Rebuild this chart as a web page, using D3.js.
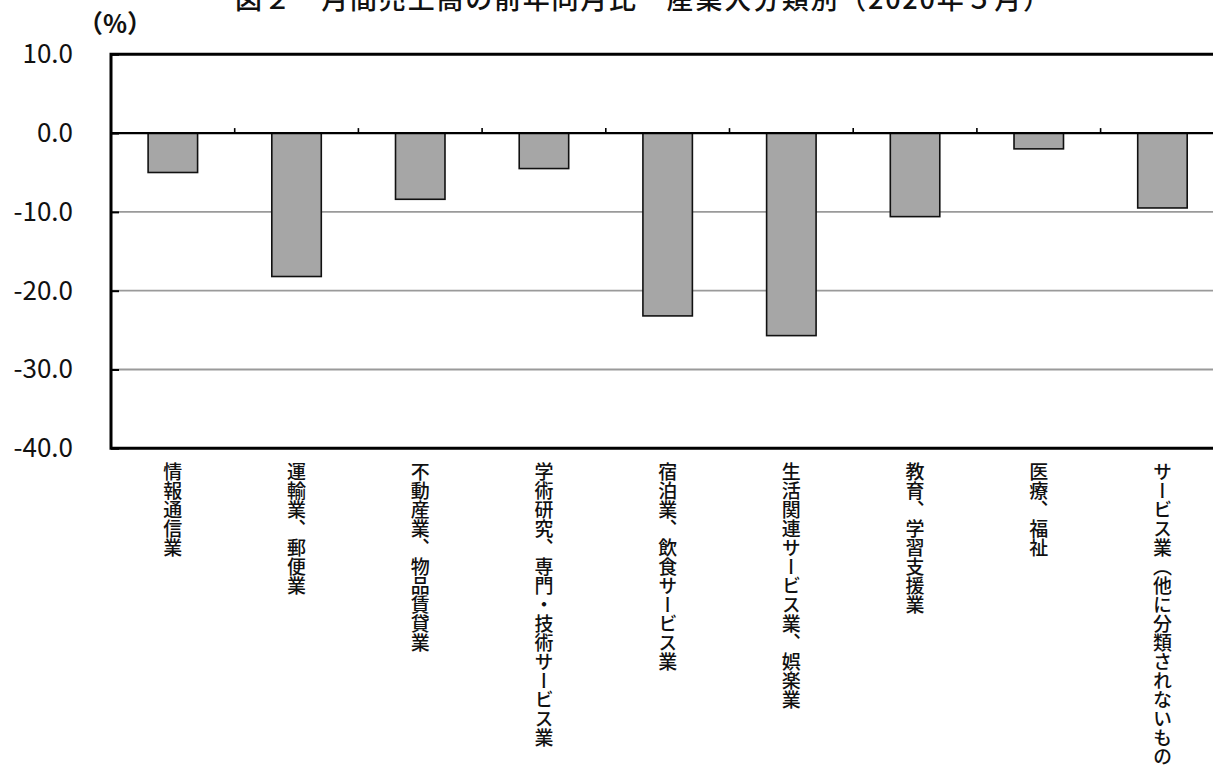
<!DOCTYPE html>
<html lang="ja">
<head>
<meta charset="utf-8">
<script src="https://cdn.jsdelivr.net/npm/d3@7"></script>
<style>
  html, body { margin: 0; padding: 0; background: #fff; overflow: hidden; }
  svg { display: block; }
  text { font-family: "Noto Sans CJK JP", "Noto Sans", sans-serif; fill: #111; }
</style>
</head>
<body>
<svg id="chart" width="1213" height="765"></svg>
<script>
// 産業大分類別 月間売上高の前年同月比（%）
const categories = [
  "情報通信業",
  "運輸業、郵便業",
  "不動産業、物品賃貸業",
  "学術研究、専門・技術サービス業",
  "宿泊業、飲食サービス業",
  "生活関連サービス業、娯楽業",
  "教育、学習支援業",
  "医療、福祉",
  "サービス業（他に分類されないもの）"
];
const values = [-5.0, -18.2, -8.4, -4.5, -23.2, -25.7, -10.6, -2.0, -9.5];
const yTicks = [10, 0, -10, -20, -30, -40];
const gridValues = [-10, -20, -30];
const titleText = "図２　月間売上高の前年同月比　産業大分類別（2020年５月）";
const unitText = "（%）";

const svg = d3.select("#chart");
const margin = { left: 111, top: 54.3, bottom: 448.3 };
const bandW = 123.7;
const plotRight = margin.left + bandW * categories.length;

const x = d3.scaleBand()
  .domain(categories)
  .range([margin.left, plotRight])
  .paddingInner(0.6)
  .paddingOuter(0.3);

const y = d3.scaleLinear()
  .domain([-40, 10])
  .range([margin.bottom, margin.top]);

// title (top of page)
svg.append("text")
  .attr("x", 235)
  .attr("y", 9)
  .attr("font-size", 27)
  .attr("font-weight", 500)
  .attr("textLength", 815)
  .attr("lengthAdjust", "spacing")
  .text(titleText);

// unit label
svg.append("text")
  .attr("x", 78)
  .attr("y", 33)
  .attr("font-size", 25)
  .attr("font-weight", 700)
  .text(unitText);

// horizontal gridlines
svg.append("g")
  .selectAll("line")
  .data(gridValues)
  .join("line")
  .attr("x1", margin.left)
  .attr("x2", plotRight)
  .attr("y1", d => y(d))
  .attr("y2", d => y(d))
  .attr("stroke", "#9a9a9a")
  .attr("stroke-width", 1.8);

// bars
svg.append("g")
  .selectAll("rect")
  .data(values)
  .join("rect")
  .attr("x", (d, i) => x(categories[i]))
  .attr("width", x.bandwidth())
  .attr("y", d => y(Math.max(0, d)))
  .attr("height", d => Math.abs(y(d) - y(0)))
  .attr("fill", "#a6a6a6")
  .attr("stroke", "#111")
  .attr("stroke-width", 1.6);

// zero line with category separator ticks
svg.append("line")
  .attr("x1", margin.left)
  .attr("x2", plotRight)
  .attr("y1", y(0))
  .attr("y2", y(0))
  .attr("stroke", "#000")
  .attr("stroke-width", 2.2);

svg.append("g")
  .selectAll("line")
  .data(categories.slice(1))
  .join("line")
  .attr("x1", d => x(d) - x.step() * x.paddingOuter())
  .attr("x2", d => x(d) - x.step() * x.paddingOuter())
  .attr("y1", y(0))
  .attr("y2", y(0) - 5)
  .attr("stroke", "#000")
  .attr("stroke-width", 1.6);

// plot frame (top, left, bottom)
svg.append("path")
  .attr("d", `M${plotRight},${margin.top}H${margin.left}V${margin.bottom}H${plotRight}`)
  .attr("fill", "none")
  .attr("stroke", "#000")
  .attr("stroke-width", 3);

// y axis, labels with a plain hyphen for negatives
const yAxis = d3.axisLeft(y)
  .tickValues(yTicks)
  .tickFormat(d => d.toFixed(1))
  .tickSize(-8)
  .tickPadding(38);

const gy = svg.append("g")
  .attr("transform", `translate(${margin.left},0)`)
  .call(yAxis);
gy.select(".domain").remove();
gy.selectAll(".tick line")
  .attr("stroke", "#000")
  .attr("stroke-width", 2);
gy.selectAll(".tick text")
  .attr("font-size", 26)
  .attr("font-family", "'Noto Sans', sans-serif")
  .attr("fill", "#1a1a1a");

// vertical category labels
svg.append("g")
  .selectAll("text")
  .data(categories)
  .join("text")
  .attr("x", d => x(d) + x.bandwidth() / 2)
  .attr("y", 462)
  .attr("font-size", 19)
  .attr("font-weight", 500)
  .style("writing-mode", "vertical-rl")
  .text(d => d);
</script>
</body>
</html>
